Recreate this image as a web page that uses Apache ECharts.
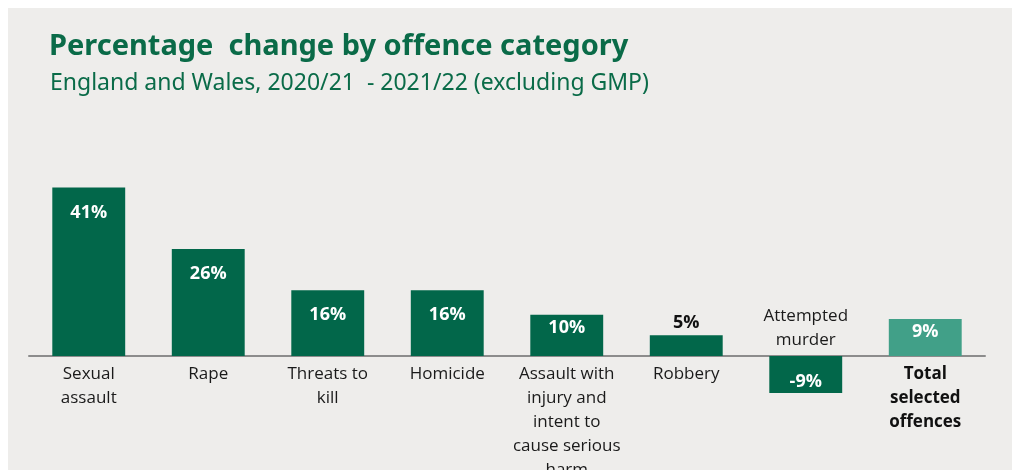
<!DOCTYPE html>
<html><head><meta charset="utf-8">
<script src="https://cdn.jsdelivr.net/npm/echarts@6/dist/echarts.min.js"></script>
<style>html,body{margin:0;padding:0;background:#fff}#c{width:1018px;height:470px}</style>
</head><body><div id="c"></div>
<script>
const titleText = 'Percentage  change by offence category';
const subtitleText = 'England and Wales, 2020/21  - 2021/22 (excluding GMP)';
const categories = ['Sexual\nassault', 'Rape', 'Threats to\nkill', 'Homicide', 'Assault with\ninjury and\nintent to\ncause serious\nharm', 'Robbery', 'Attempted\nmurder', 'Total\nselected\noffences'];
const values = [41, 26, 16, 16, 10, 5, -9, 9];
const totalIndex = 7;

const DARK = '#02674a', TEAL = '#41a088', TITLE = '#0a6b48';
const chart = echarts.init(document.getElementById('c'), null, {renderer: 'canvas'});

const barData = values.map((v, i) => {
  const item = {value: v, itemStyle: {color: i === totalIndex ? TEAL : DARK}};
  if (v < 0) {
    item.label = {position: 'inside', offset: [0, 7]};
  } else if (v < 8) {
    item.label = {position: 'top', color: '#111', distance: 3};
  } else if (v < 12) {
    item.label = {position: 'insideTop', distance: 4};
  } else {
    item.label = {position: 'insideTop', distance: 16};
  }
  return item;
});
const negLabelData = values.map((v, i) => v < 0 ? [i, 0] : null).filter(d => d);

chart.setOption({
  backgroundColor: 'transparent',
  animation: false,
  graphic: [
    {type: 'rect', shape: {x: 8, y: 8, width: 1004, height: 470}, style: {fill: '#eeedeb'}, z: -10, silent: true},
    {type: 'text', left: 49, top: 32, style: {text: titleText, font: 'bold 29px "Noto Sans"', fill: TITLE}},
    {type: 'text', left: 50, top: 72, style: {text: subtitleText, font: '23px "Noto Sans"', fill: TITLE}}
  ],
  grid: {left: 29, right: 33, top: 171, bottom: 73, containLabel: false, outerBoundsMode: 'none'},
  xAxis: {
    type: 'category',
    data: categories,
    axisTick: {show: false},
    axisLine: {lineStyle: {color: '#8c8c8c', width: 2}},
    axisLabel: {
      interval: 0, margin: -35, fontFamily: '"Open Sans"', fontSize: 17, lineHeight: 24, color: '#1a1a1a',
      formatter: (val, idx) => values[idx] < 0 ? '' : (idx === totalIndex ? '{b|' + val.split('\n').join('}\n{b|') + '}' : val),
      rich: {b: {fontWeight: 'bold', fontSize: 17, lineHeight: 24, color: '#111', fontFamily: '"Open Sans"'}}
    }
  },
  yAxis: {type: 'value', min: -10, max: 45, show: false, splitLine: {show: false}},
  series: [
    {
      type: 'bar',
      data: barData,
      barWidth: '61%',
      label: {show: true, color: '#fff', fontFamily: '"Open Sans"', fontWeight: 'bold', fontSize: 18,
        formatter: p => p.value + '%'}
    },
    {
      type: 'scatter',
      data: negLabelData,
      symbolSize: 0,
      itemStyle: {opacity: 1},
      label: {show: true, position: 'top', distance: 4, fontFamily: '"Open Sans"', fontSize: 17, lineHeight: 24,
        color: '#1a1a1a', opacity: 1, formatter: p => categories[p.value[0]]}
    }
  ]
});
</script></body></html>
